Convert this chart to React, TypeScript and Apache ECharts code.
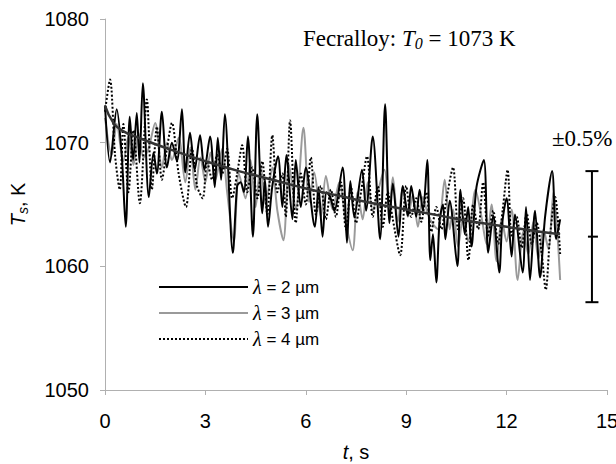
import React, { useEffect, useRef } from "react";
import * as echarts from "echarts";

// ---- data ----
const xTicks = [0, 3, 6, 9, 12, 15];
const yTicks = [1050, 1060, 1070, 1080];

// λ = 2 µm (black solid): times of extrema and temperatures
const t2 = [0, 0.15, 0.35, 0.5, 0.62, 0.74, 0.84, 0.95, 1.03, 1.13, 1.31, 1.45, 1.55, 1.7, 1.85, 2.0, 2.15, 2.3, 2.4, 2.54, 2.68, 2.84, 2.97, 3.14, 3.28, 3.37, 3.47, 3.58, 3.82, 3.95, 4.05, 4.15, 4.27, 4.42, 4.55, 4.7, 4.78, 4.87, 5.0, 5.17, 5.3, 5.42, 5.6, 5.7, 5.85, 6.0, 6.27, 6.38, 6.5, 6.62, 6.73, 6.85, 7.1, 7.23, 7.33, 7.45, 7.68, 7.8, 8.0, 8.22, 8.37, 8.5, 8.6, 8.77, 8.9, 9.05, 9.15, 9.3, 9.4, 9.5, 9.63, 9.72, 9.8, 9.9, 10.0, 10.1, 10.17, 10.3, 10.53, 10.62, 10.75, 10.85, 10.95, 11.1, 11.32, 11.45, 11.6, 11.78, 11.87, 12.0, 12.15, 12.25, 12.48, 12.58, 12.7, 12.85, 13.0, 13.15, 13.36, 13.48, 13.6];
const v2 = [1073.0, 1068.4, 1072.7, 1069.0, 1063.2, 1072.1, 1068.6, 1072.4, 1068.4, 1074.8, 1065.6, 1069.2, 1067.5, 1072.5, 1068.0, 1070.0, 1068.5, 1072.7, 1067.6, 1070.8, 1067.8, 1070.6, 1067.8, 1070.5, 1066.4, 1070.4, 1067.0, 1072.3, 1061.1, 1066.5, 1066.8, 1066.0, 1070.5, 1062.4, 1072.3, 1064.3, 1067.0, 1063.2, 1066.5, 1068.9, 1064.8, 1069.0, 1063.8, 1068.6, 1064.8, 1068.0, 1063.2, 1066.4, 1062.4, 1066.0, 1065.6, 1064.5, 1068.0, 1061.9, 1066.9, 1064.0, 1067.8, 1064.5, 1070.5, 1062.2, 1073.1, 1063.5, 1066.7, 1062.4, 1066.5, 1064.1, 1066.5, 1064.0, 1066.2, 1064.5, 1068.6, 1060.5, 1062.6, 1058.7, 1063.8, 1065.0, 1062.2, 1065.3, 1060.0, 1066.2, 1062.6, 1064.8, 1061.6, 1066.4, 1068.6, 1061.1, 1064.1, 1059.5, 1063.5, 1065.5, 1060.8, 1064.2, 1059.5, 1064.8, 1058.9, 1064.5, 1059.1, 1064.0, 1067.7, 1062.2, 1063.8];

// λ = 3 µm (grey solid)
const t3 = [0, 0.2, 0.35, 0.55, 0.7, 0.85, 1.0, 1.15, 1.3, 1.5, 1.7, 1.85, 2.0, 2.2, 2.4, 2.55, 2.7, 2.85, 3.0, 3.15, 3.3, 3.5, 3.65, 3.85, 4.0, 4.2, 4.35, 4.5, 4.65, 4.8, 5.0, 5.15, 5.33, 5.5, 5.7, 5.93, 6.1, 6.25, 6.45, 6.6, 6.8, 7.0, 7.2, 7.4, 7.55, 7.7, 7.85, 8.0, 8.15, 8.35, 8.5, 8.6, 8.75, 8.9, 9.05, 9.2, 9.35, 9.5, 9.65, 9.8, 9.95, 10.15, 10.3, 10.4, 10.55, 10.7, 10.85, 11.07, 11.25, 11.4, 11.55, 11.7, 11.85, 12.0, 12.15, 12.33, 12.5, 12.65, 12.8, 12.95, 13.1, 13.25, 13.4, 13.6];
const v3 = [1072.0, 1069.0, 1071.5, 1068.5, 1070.5, 1068.2, 1070.8, 1068.8, 1069.5, 1071.6, 1068.0, 1070.0, 1068.6, 1070.4, 1066.8, 1069.6, 1066.2, 1068.8, 1066.8, 1069.2, 1067.0, 1069.5, 1066.0, 1062.0, 1067.5, 1065.5, 1068.6, 1064.8, 1068.2, 1065.0, 1068.0, 1064.5, 1062.1, 1068.2, 1064.6, 1071.2, 1065.2, 1067.6, 1064.0, 1067.3, 1064.6, 1066.8, 1063.5, 1061.3, 1066.0, 1063.8, 1066.8, 1064.5, 1066.0, 1067.8, 1064.8, 1067.2, 1063.6, 1066.4, 1064.0, 1065.8, 1063.2, 1065.6, 1064.2, 1063.4, 1063.0, 1067.0, 1063.0, 1064.6, 1061.6, 1064.0, 1062.0, 1066.2, 1064.0, 1061.8, 1065.0, 1060.4, 1063.8, 1062.0, 1064.6, 1058.9, 1062.8, 1061.0, 1063.6, 1060.6, 1063.0, 1061.4, 1066.0, 1058.9];

// λ = 4 µm (black dotted)
const t4 = [0, 0.15, 0.3, 0.44, 0.55, 0.7, 0.85, 1.04, 1.25, 1.4, 1.55, 1.7, 1.85, 2.0, 2.2, 2.42, 2.6, 2.75, 2.92, 3.05, 3.2, 3.35, 3.5, 3.65, 3.8, 3.95, 4.1, 4.25, 4.4, 4.55, 4.7, 4.85, 5.0, 5.15, 5.3, 5.4, 5.53, 5.7, 5.85, 6.0, 6.15, 6.3, 6.45, 6.6, 6.75, 6.9, 7.05, 7.2, 7.35, 7.5, 7.65, 7.83, 8.0, 8.15, 8.3, 8.45, 8.6, 8.82, 9.0, 9.15, 9.3, 9.45, 9.6, 9.75, 9.9, 10.05, 10.2, 10.4, 10.55, 10.7, 10.86, 11.0, 11.15, 11.3, 11.45, 11.6, 11.75, 11.88, 12.03, 12.15, 12.3, 12.45, 12.6, 12.75, 12.9, 13.05, 13.17, 13.3, 13.45, 13.6];
const v4 = [1072.5, 1075.1, 1069.0, 1066.2, 1071.5, 1066.0, 1071.0, 1065.1, 1073.5, 1066.2, 1071.3, 1067.0, 1069.5, 1071.6, 1067.5, 1064.8, 1069.5, 1066.5, 1065.5, 1068.5, 1067.0, 1069.0, 1067.5, 1069.5, 1065.5, 1067.5, 1069.8, 1066.0, 1068.0, 1065.5, 1068.5, 1064.2, 1070.6, 1066.0, 1067.5, 1064.0, 1071.8, 1063.5, 1067.5, 1065.0, 1068.8, 1064.2, 1066.5, 1063.8, 1066.2, 1064.0, 1066.8, 1063.0, 1066.4, 1063.5, 1066.0, 1068.9, 1064.0, 1066.5, 1063.2, 1066.0, 1063.8, 1060.9, 1066.5, 1064.0, 1065.5, 1063.6, 1066.0, 1062.8, 1064.8, 1063.0, 1065.4, 1068.0, 1063.0, 1065.5, 1060.5, 1065.0, 1063.0, 1066.8, 1062.5, 1064.5, 1061.8, 1064.5, 1067.8, 1062.5, 1064.0, 1061.5, 1064.3, 1061.8, 1063.5, 1061.0, 1058.1, 1062.5, 1065.6, 1061.0];

// fitted trend (dark grey smooth curve)
const tTrend = [0, 0.25, 0.5, 1, 2, 3, 4, 5, 6, 7, 8, 9, 10, 11, 12, 13, 13.6];
const vTrend = [1073.0, 1071.6, 1071.0, 1070.4, 1069.4, 1068.5, 1067.7, 1067.0, 1066.3, 1065.7, 1065.1, 1064.6, 1064.1, 1063.6, 1063.2, 1062.8, 1062.6];

// error bar: position, centre, half-width (±0.5 %)
const errT = [14.55];
const errCentre = [1062.4];
const errHalf = [5.3];

const seriesNames = ["λ = 2 µm", "λ = 3 µm", "λ = 4 µm"];

const zip = (a: number[], b: number[]) => a.map((x, i) => [x, b[i]]);

export default function App() {
  const ref = useRef<HTMLDivElement>(null);
  useEffect(() => {
    if (!ref.current) return;
    const chart = echarts.init(ref.current, null, { renderer: "svg" });
    const sans = "Liberation Sans";
    const serif = "Liberation Serif";
    chart.setOption({
      animation: false,
      backgroundColor: "#fff",
      grid: { left: 105, right: 9, top: 19, bottom: 74, containLabel: false, outerBoundsMode: "none" },
      xAxis: {
        type: "value",
        min: xTicks[0],
        max: xTicks[xTicks.length - 1],
        interval: 3,
        name: "{i|t}{n|, s}",
        nameLocation: "middle",
        nameGap: 52,
        nameTextStyle: {
          rich: {
            i: { fontFamily: sans, fontStyle: "italic", fontSize: 20, color: "#000" },
            n: { fontFamily: sans, fontSize: 20, color: "#000" },
          },
        },
        axisLine: { lineStyle: { color: "#b0b0b0", width: 1 } },
        axisTick: { show: true, length: 5, lineStyle: { color: "#b0b0b0" } },
        axisLabel: { fontFamily: sans, fontSize: 20, color: "#000", margin: 21 },
        splitLine: { show: false },
      },
      yAxis: {
        type: "value",
        min: yTicks[0],
        max: yTicks[yTicks.length - 1],
        interval: 10,
        name: "{i|T}{s|s}{n|, K}",
        nameLocation: "middle",
        nameGap: 75,
        nameTextStyle: {
          rich: {
            i: { fontFamily: sans, fontStyle: "italic", fontSize: 20, color: "#000" },
            s: { fontFamily: sans, fontStyle: "italic", fontSize: 14, color: "#000", verticalAlign: "bottom", padding: [10, 0, 0, 0] },
            n: { fontFamily: sans, fontSize: 20, color: "#000" },
          },
        },
        axisLine: { show: true, lineStyle: { color: "#b0b0b0", width: 1 } },
        axisTick: { show: true, length: 5, lineStyle: { color: "#b0b0b0" } },
        axisLabel: { fontFamily: sans, fontSize: 20, color: "#000", margin: 16, formatter: (v: number) => String(v) },
        splitLine: { show: false },
      },
      legend: {
        orient: "vertical",
        left: 153,
        top: 272,
        itemWidth: 89,
        itemHeight: 14,
        itemGap: 6,
        data: seriesNames,
        itemStyle: { opacity: 0 },
        formatter: (name: string) => `{l|λ}{n|${name.slice(1)}}`,
        textStyle: {
          rich: {
            l: { fontFamily: serif, fontStyle: "italic", fontSize: 20, color: "#000" },
            n: { fontFamily: sans, fontSize: 17, color: "#000" },
          },
        },
      },
      graphic: [
        {
          type: "text",
          left: 303,
          top: 27,
          style: {
            text: "{n|Fecralloy: }{i|T}{s|0}{n| = 1073 K}",
            rich: {
              n: { fontFamily: serif, fontSize: 23, fill: "#000" },
              i: { fontFamily: serif, fontStyle: "italic", fontSize: 23, fill: "#000" },
              s: { fontFamily: serif, fontStyle: "italic", fontSize: 16, fill: "#000", verticalAlign: "bottom", padding: [9, 0, 0, 0] },
            },
          },
        },
        {
          type: "text",
          left: 552,
          top: 127,
          style: { text: "±0.5%", font: "23px 'Liberation Serif'", fill: "#000" },
        },
      ],
      series: [
        {
          name: seriesNames[1],
          type: "line",
          data: zip(t3, v3),
          smooth: 0.3,
          showSymbol: false,
          symbol: "none",
          lineStyle: { color: "#9a9a9a", width: 2 },
          itemStyle: { color: "#9a9a9a" },
          z: 2,
        },
        {
          name: seriesNames[0],
          type: "line",
          data: zip(t2, v2),
          smooth: 0.3,
          showSymbol: false,
          symbol: "none",
          lineStyle: { color: "#000", width: 2 },
          itemStyle: { color: "#000" },
          z: 3,
        },
        {
          name: seriesNames[2],
          type: "line",
          data: zip(t4, v4),
          smooth: 0.3,
          showSymbol: false,
          symbol: "none",
          lineStyle: { color: "#000", width: 2, type: [2, 2] },
          itemStyle: { color: "#000" },
          z: 4,
        },
        {
          name: "trend",
          type: "line",
          data: zip(tTrend, vTrend),
          smooth: true,
          showSymbol: false,
          symbol: "none",
          lineStyle: { color: "#333", width: 2.5 },
          z: 5,
        },
        {
          name: "error",
          type: "custom",
          data: errT.map((t, i) => [t, errCentre[i], errHalf[i]]),
          encode: { x: 0, y: 1 },
          renderItem: (_p: any, api: any) => {
            const x = api.value(0);
            const c = api.value(1);
            const h = api.value(2);
            const top = api.coord([x, c + h]);
            const bot = api.coord([x, c - h]);
            const mid = api.coord([x, c]);
            const st = { stroke: "#000", lineWidth: 2 };
            const w = 6.5;
            return {
              type: "group",
              children: [
                { type: "line", shape: { x1: top[0], y1: top[1], x2: bot[0], y2: bot[1] }, style: st },
                { type: "line", shape: { x1: top[0] - w, y1: top[1], x2: top[0] + w, y2: top[1] }, style: st },
                { type: "line", shape: { x1: bot[0] - w, y1: bot[1], x2: bot[0] + w, y2: bot[1] }, style: st },
                { type: "line", shape: { x1: mid[0] - 4, y1: mid[1], x2: mid[0] + 6, y2: mid[1] }, style: st },
              ],
            };
          },
          z: 6,
        },
      ],
    });
    return () => chart.dispose();
  }, []);
  return <div ref={ref} style={{ width: 616, height: 464, position: "absolute", left: 0, top: 0 }} />;
}
